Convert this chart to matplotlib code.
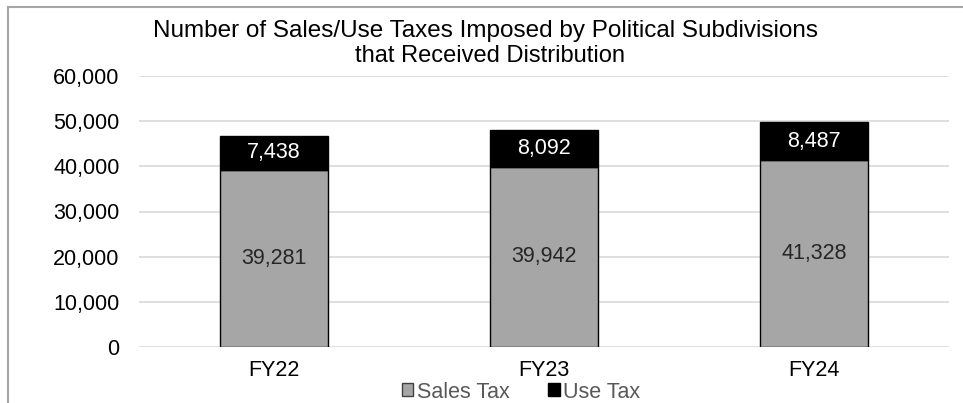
import matplotlib
matplotlib.use("Agg")
import matplotlib.pyplot as plt
from matplotlib.patches import Patch
from matplotlib.ticker import FuncFormatter
from matplotlib.lines import Line2D

categories = ["FY22", "FY23", "FY24"]
sales_tax = [39281, 39942, 41328]
use_tax = [7438, 8092, 8487]
yticks = [0, 10000, 20000, 30000, 40000, 50000, 60000]

plt.rcParams['font.family'] = ['Liberation Sans', 'DejaVu Sans']

fig = plt.figure(figsize=(9.63, 4.03), dpi=100)
ax = fig.add_axes([139/963, 1-347/403, (949-139)/963, (347-76)/403])

x = list(range(len(categories)))
w = 0.4
gray = "#A6A6A6"
fs = 15.5
ax.bar(x, sales_tax, width=w, color=gray, edgecolor="black", linewidth=1.0, zorder=3)
ax.bar(x, use_tax, bottom=sales_tax, width=w, color="black", edgecolor="black", linewidth=1.0, zorder=3)

for i in x:
    ax.text(i, sales_tax[i] / 2, f"{sales_tax[i]:,}", ha="center", va="center",
            fontsize=fs, color="#262626", zorder=4)
    ax.text(i, sales_tax[i] + use_tax[i] / 2, f"{use_tax[i]:,}", ha="center", va="center",
            fontsize=fs, color="white", zorder=4)

ax.set_xlim(-0.5, 2.5)
ax.set_ylim(0, 60000)
ax.set_yticks(yticks)
ax.yaxis.set_major_formatter(FuncFormatter(lambda v, p: f"{int(v):,}"))
ax.set_xticks(x)
ax.set_xticklabels(categories)
ax.tick_params(axis="both", length=0, labelsize=fs, colors="black")
ax.tick_params(axis="y", pad=14)
ax.tick_params(axis="x", pad=9)
ax.grid(axis="y", color="#D9D9D9", linewidth=1.2, zorder=0)
for s in ax.spines.values():
    s.set_visible(False)

fig.text(485/963, 1-31/403, "Number of Sales/Use Taxes Imposed by Political Subdivisions",
         ha="center", va="center", fontsize=17.5, color="black")
fig.text(490/963, 1-56/403, "that Received Distribution",
         ha="center", va="center", fontsize=17, color="black")

handles = [Patch(facecolor=gray, edgecolor="#404040", linewidth=1.0),
           Patch(facecolor="black", edgecolor="black")]
leg = fig.legend(handles, ["Sales Tax", "Use Tax"], loc="center",
                 bbox_to_anchor=(521/963, 1-392/403), ncol=2, frameon=False,
                 fontsize=fs, handlelength=0.55, handleheight=0.55, handletextpad=0.15,
                 columnspacing=1.8, borderpad=0)
for t in leg.get_texts():
    t.set_color("#595959")

# outer frame lines (top and left)
fig.add_artist(Line2D([8/963, 1.0], [1-7/403, 1-7/403], transform=fig.transFigure,
                      color="#A6A6A6", linewidth=1.5))
fig.add_artist(Line2D([8/963, 8/963], [0, 1-7/403], transform=fig.transFigure,
                      color="#A6A6A6", linewidth=1.5))

fig.savefig("out.png", dpi=100)
